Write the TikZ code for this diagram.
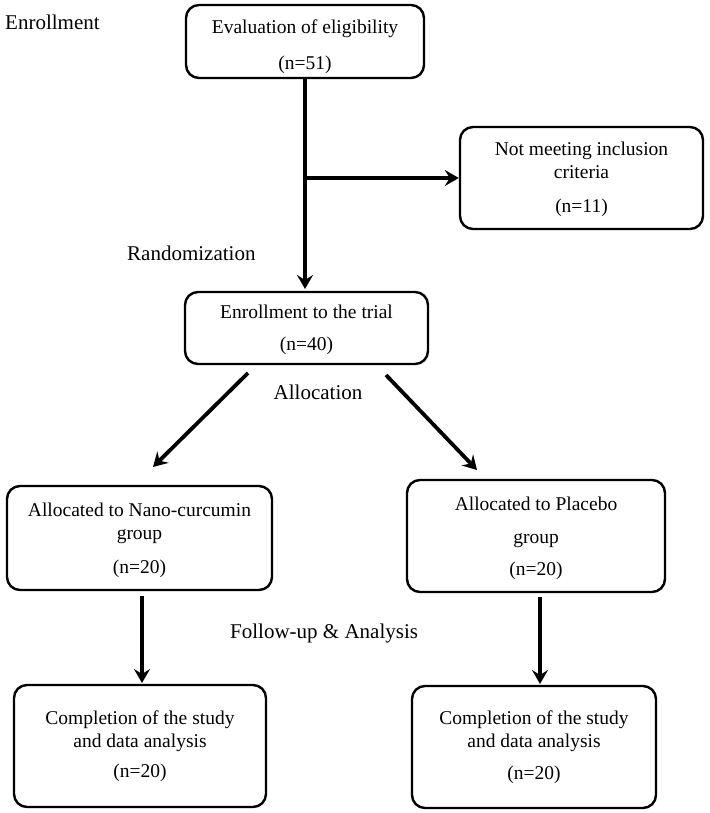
\documentclass[tikz,border=0pt]{standalone}
\usepackage{fontspec}
\setmainfont{Liberation Serif}
\usetikzlibrary{arrows.meta}
\begin{document}
\begin{tikzpicture}[x=1pt,y=-1pt,
  box/.style={draw, line width=2.4pt, rounded corners=13pt, align=center, inner sep=0pt,
    font=\fontsize{19.5}{23}\selectfont},
  lbl/.style={font=\fontsize{21}{25}\selectfont, inner sep=0pt},
  arr/.style={line width=3.8pt, -{Stealth[length=14pt,width=16pt,inset=5pt]}},
  ]
\useasboundingbox (0,0) rectangle (709,813);
% boxes
\node[box, minimum width=238pt, minimum height=73pt] (eval) at (305,41.5)
  {\rule{0pt}{24pt}Evaluation of eligibility\\[13pt](n=51)};
\node[box, minimum width=243pt, minimum height=102pt] (notmeet) at (581.5,178)
  {\rule{0pt}{17pt}Not meeting inclusion\\criteria\\[11pt](n=11)};
\node[box, minimum width=243pt, minimum height=72pt] (enroll) at (306.5,328)
  {\rule{0pt}{18pt}Enrollment to the trial\\[9pt](n=40)};
\node[box, minimum width=265pt, minimum height=104pt] (nano) at (139.5,538)
  {\rule{0pt}{18pt}Allocated to Nano-curcumin\\group\\[11pt](n=20)};
\node[box, minimum width=258pt, minimum height=112pt] (plac) at (536,536)
  {\rule{0pt}{18pt}Allocated to Placebo\\[10pt]group\\[9pt](n=20)};
\node[box, minimum width=252pt, minimum height=122pt] (compl) at (140,746)
  {Completion of the study\\and data analysis\\[7pt](n=20)};
\node[box, minimum width=244pt, minimum height=122pt] (compr) at (534,747)
  {Completion of the study\\and data analysis\\[9pt](n=20)};
% labels
\node[lbl, anchor=west] (lenr) at (5,22) {Enrollment};
\node[lbl, anchor=west] (lrand) at (127,253) {Randomization};
\node[lbl] (lalloc) at (318,392) {Allocation};
\node[lbl, anchor=west] (lfollow) at (230,633) {Follow-up \& Analysis};
% connector ends
\coordinate (a1e) at (305,289);
\coordinate (br) at (305,178);
\coordinate (a3s) at (248,373);
\coordinate (a3e) at (153,467);
\coordinate (a4s) at (386,375);
\coordinate (a4e) at (477,470);
\coordinate (a5s) at (142,596);
\coordinate (a5e) at (142,683);
\coordinate (a6s) at (540,597);
\coordinate (a6e) at (540,684);
% connectors
\draw[arr] (eval.south -| br) -- (a1e);
\draw[arr] (br) -- (notmeet.west);
\draw[arr] (a3s) -- (a3e);
\draw[arr] (a4s) -- (a4e);
\draw[arr] (a5s) -- (a5e);
\draw[arr] (a6s) -- (a6e);
\end{tikzpicture}
\end{document}
